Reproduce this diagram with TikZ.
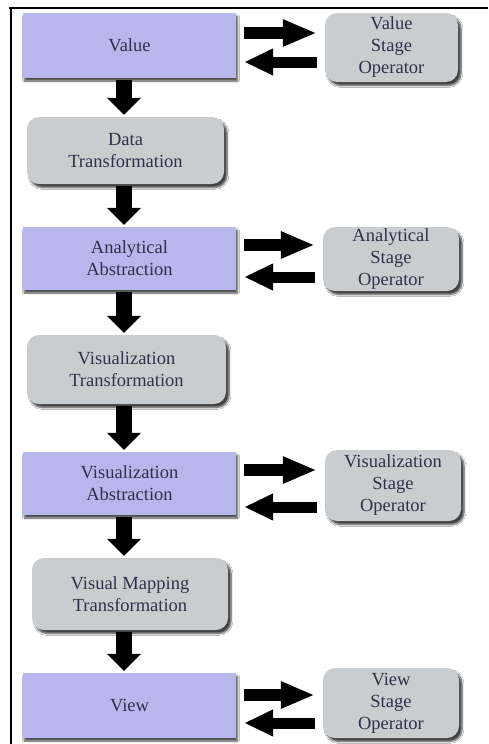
\documentclass[tikz,border=0pt]{standalone}
\usepackage{fontspec}
\setmainfont{Liberation Serif}
\usetikzlibrary{arrows.meta,shadows.blur}
\definecolor{stagefill}{HTML}{B7B7EE}
\definecolor{opfill}{HTML}{C9CDCF}
\definecolor{labelink}{HTML}{30304A}
\tikzset{
  boxtext/.style={text=labelink, font=\fontsize{18.5}{22}\selectfont, align=center, inner sep=0pt},
  stagebox/.style={boxtext, rectangle, fill=stagefill, minimum width=213pt,
    blur shadow={shadow xshift=1.5pt, shadow yshift=-3pt, shadow blur steps=6, shadow opacity=70}},
  opbox/.style={boxtext, rectangle, rounded corners=12pt, fill=opfill,
    blur shadow={shadow xshift=3pt, shadow yshift=-3.5pt, shadow blur steps=6, shadow opacity=75}},
  downarrow/.style={line width=16pt, -{Triangle[width=33pt,length=17pt]}, shorten <=2pt, shorten >=2pt},
  fwdarrow/.style={line width=11.5pt, -{Triangle[width=25pt,length=34pt]}, shorten <=8pt, shorten >=8pt},
  backarrow/.style={line width=11pt, -{Triangle[width=25pt,length=29pt]}, shorten <=8pt, shorten >=8pt},
}
\begin{document}
\begin{tikzpicture}[x=1pt,y=-1pt]
\useasboundingbox (0,0) rectangle (488,744);
\fill[white] (0,0) rectangle (488,744);
% frame
\draw[line width=2.5pt] (9,8) -- (488,8);
\draw[line width=2.5pt] (11,7) -- (11,744);

% stage column
\node[stagebox, minimum height=65pt] (val) at (129.5,45.5) {Value};
\node[opbox, minimum width=197pt, minimum height=67pt] (dt) at (125.5,150.5) {Data\\Transformation};
\node[stagebox, minimum height=63pt] (aa) at (129.5,258.5) {Analytical\\Abstraction};
\node[opbox, minimum width=199pt, minimum height=69pt] (vt) at (126.5,369.5) {Visualization\\Transformation};
\node[stagebox, minimum height=63pt] (va) at (129.5,483.5) {Visualization\\Abstraction};
\node[opbox, minimum width=196pt, minimum height=72pt] (vmt) at (130,594) {Visual Mapping\\Transformation};
\node[stagebox, minimum height=65pt] (view) at (129.5,705.5) {View};

% stage operators
\node[opbox, minimum width=133pt, minimum height=69pt] (vso) at (391.5,47.5) {Value\\Stage\\Operator};
\node[opbox, minimum width=136pt, minimum height=64pt] (aso) at (391,259) {Analytical\\Stage\\Operator};
\node[opbox, minimum width=136pt, minimum height=71pt] (zso) at (393,485.5) {Visualization\\Stage\\Operator};
\node[opbox, minimum width=136pt, minimum height=70pt] (wso) at (391,703) {View\\Stage\\Operator};

% pipeline
\draw[downarrow] ([xshift=-5.5pt]val.south) -- ([xshift=-5.5pt]val.south |- dt.north);
\draw[downarrow] ([xshift=-5.5pt]val.south |- dt.south) -- ([xshift=-5.5pt]val.south |- aa.north);
\draw[downarrow] ([xshift=-5.5pt]aa.south) -- ([xshift=-5.5pt]aa.south |- vt.north);
\draw[downarrow] ([xshift=-5.5pt]aa.south |- vt.south) -- ([xshift=-5.5pt]aa.south |- va.north);
\draw[downarrow] ([xshift=-5.5pt]va.south) -- ([xshift=-5.5pt]va.south |- vmt.north);
\draw[downarrow] ([xshift=-5.5pt]va.south |- vmt.south) -- ([xshift=-5.5pt]va.south |- view.north);

% exchanges with the stage operators
\draw[fwdarrow] ([yshift=12.5pt]val.east) -- ([yshift=12.5pt]val.east -| vso.west);
\draw[backarrow] ([yshift=-16.5pt]val.east -| vso.west) -- ([yshift=-16.5pt]val.east);
\draw[fwdarrow] ([yshift=13.5pt]aa.east) -- ([yshift=13.5pt]aa.east -| aso.west);
\draw[backarrow] ([yshift=-18.5pt]aa.east -| aso.west) -- ([yshift=-18.5pt]aa.east);
\draw[fwdarrow] ([yshift=13.5pt]va.east) -- ([yshift=13.5pt]va.east -| zso.west);
\draw[backarrow] ([yshift=-23.5pt]va.east -| zso.west) -- ([yshift=-23.5pt]va.east);
\draw[fwdarrow] ([yshift=10.5pt]view.east) -- ([yshift=10.5pt]view.east -| wso.west);
\draw[backarrow] ([yshift=-17.5pt]view.east -| wso.west) -- ([yshift=-17.5pt]view.east);
\end{tikzpicture}
\end{document}
